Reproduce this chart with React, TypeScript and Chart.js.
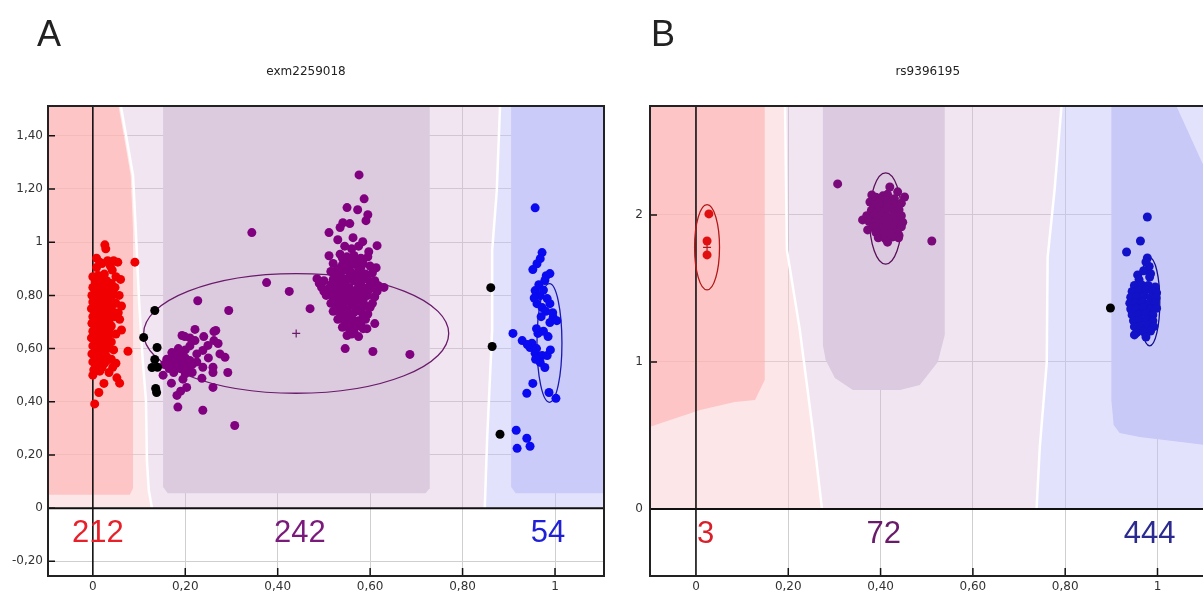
import React, { useEffect, useRef } from 'react';
import { Chart, registerables } from 'chart.js';

Chart.register(...registerables);

type Pt = [number, number];

// ---------- tick values ----------
const X_TICKS = [0, 0.2, 0.4, 0.6, 0.8, 1];
const A_Y_TICKS = [-0.2, 0, 0.2, 0.4, 0.6, 0.8, 1, 1.2, 1.4];
const B_Y_TICKS = [0, 1, 2];

// ---------- panel A data (exm2259018) ----------
const A_RED: Pt[] = [
  [0.026, 0.99], [0.028, 0.975], [0.015, 0.925], [0.032, 0.93], [0.045, 0.93], [0.054, 0.925], [0.091, 0.925],
  [0.02, 0.92], [0.038, 0.91], [0.008, 0.905], [0.042, 0.895], [0.008, 0.94], [0.02, 0.865],
  [0.0, 0.87], [0.012, 0.875], [0.025, 0.88], [0.05, 0.87], [0.06, 0.86], [0.005, 0.85], [0.018, 0.85],
  [0.03, 0.855], [0.04, 0.845], [0.0, 0.83], [0.01, 0.825], [0.022, 0.83], [0.035, 0.82], [0.048, 0.83],
  [0.057, 0.8], [-0.002, 0.8], [0.008, 0.8], [0.018, 0.805], [0.028, 0.795], [0.04, 0.79], [0.0, 0.775],
  [0.012, 0.77], [0.024, 0.775], [0.036, 0.765], [0.05, 0.77], [0.062, 0.76], [-0.003, 0.75], [0.006, 0.745],
  [0.016, 0.75], [0.03, 0.745], [0.042, 0.74], [0.055, 0.735], [0.0, 0.72], [0.01, 0.72], [0.022, 0.725],
  [0.034, 0.715], [0.047, 0.72], [0.058, 0.71], [-0.002, 0.695], [0.008, 0.69], [0.018, 0.695], [0.028, 0.69],
  [0.04, 0.685], [0.036, 0.68], [0.0, 0.665], [0.012, 0.665], [0.024, 0.66], [0.036, 0.66], [0.05, 0.655],
  [0.062, 0.67], [-0.003, 0.64], [0.006, 0.635], [0.016, 0.64], [0.028, 0.635], [0.04, 0.625], [0.0, 0.61],
  [0.01, 0.605], [0.02, 0.61], [0.032, 0.6], [0.076, 0.59], [0.045, 0.595], [-0.002, 0.58], [0.008, 0.575],
  [0.018, 0.58], [0.03, 0.57], [0.04, 0.56], [0.03, 0.555], [0.0, 0.55], [0.012, 0.545], [0.025, 0.545],
  [0.05, 0.545], [0.043, 0.53], [0.002, 0.52], [0.015, 0.515], [0.035, 0.51], [0.052, 0.49], [0.0, 0.5],
  [0.024, 0.469], [0.013, 0.435], [0.004, 0.392], [0.058, 0.47],
  [0.005, 0.86], [0.015, 0.84], [0.028, 0.84], [0.005, 0.81], [0.015, 0.815], [0.03, 0.81], [0.045, 0.805],
  [0.005, 0.785], [0.02, 0.785], [0.032, 0.78], [0.005, 0.76], [0.022, 0.76], [0.04, 0.755], [0.005, 0.73],
  [0.016, 0.735], [0.028, 0.73], [0.005, 0.705], [0.024, 0.705], [0.035, 0.7], [0.005, 0.68], [0.016, 0.678],
  [0.03, 0.675], [0.005, 0.65], [0.02, 0.65], [0.034, 0.645], [0.005, 0.62], [0.015, 0.622], [0.026, 0.62],
  [0.005, 0.59], [0.024, 0.59], [0.012, 0.56], [0.022, 0.56], [0.007, 0.535], [0.02, 0.53],
];

const A_PURPLE: Pt[] = [
  // left cluster
  [0.227, 0.78], [0.294, 0.743], [0.221, 0.672], [0.262, 0.664], [0.193, 0.649], [0.221, 0.63], [0.271, 0.619],
  [0.249, 0.612], [0.238, 0.593], [0.171, 0.585], [0.188, 0.581], [0.286, 0.567], [0.292, 0.51], [0.26, 0.51],
  [0.238, 0.53], [0.236, 0.488], [0.26, 0.454], [0.203, 0.454], [0.182, 0.424], [0.184, 0.38], [0.238, 0.368],
  [0.307, 0.311], [0.152, 0.5], [0.16, 0.56], [0.17, 0.545], [0.18, 0.56], [0.19, 0.55], [0.2, 0.565],
  [0.21, 0.555], [0.165, 0.525], [0.178, 0.53], [0.19, 0.525], [0.205, 0.53], [0.215, 0.54], [0.2, 0.595],
  [0.21, 0.61], [0.225, 0.58], [0.185, 0.6], [0.2, 0.505], [0.215, 0.51], [0.175, 0.51], [0.155, 0.54],
  [0.225, 0.55], [0.195, 0.485], [0.25, 0.565], [0.21, 0.64], [0.24, 0.645], [0.262, 0.63], [0.275, 0.58],
  [0.17, 0.47], [0.19, 0.44], [0.26, 0.53], [0.199, 0.645], [0.266, 0.668],
  [0.17, 0.56], [0.185, 0.545], [0.2, 0.545], [0.185, 0.57], [0.175, 0.575], [0.195, 0.57], [0.165, 0.545],
  // scattered middle
  [0.344, 1.036], [0.376, 0.848], [0.425, 0.815], [0.47, 0.75], [0.546, 0.6], [0.606, 0.589], [0.686, 0.578],
  [0.55, 0.649], [0.593, 0.675], [0.61, 0.694],
  // main cluster
  [0.576, 1.253], [0.587, 1.163], [0.55, 1.13], [0.573, 1.122], [0.595, 1.103], [0.591, 1.081], [0.541, 1.073],
  [0.556, 1.07], [0.535, 1.055], [0.511, 1.036], [0.53, 1.009], [0.563, 1.017], [0.584, 1.002], [0.615, 0.987],
  [0.511, 0.949], [0.597, 0.964], [0.613, 0.904], [0.617, 0.837], [0.485, 0.863], [0.49, 0.845], [0.5, 0.815],
  [0.545, 0.985], [0.56, 0.975], [0.575, 0.985],
  [0.535, 0.955], [0.55, 0.945], [0.565, 0.95], [0.58, 0.94], [0.595, 0.945],
  [0.52, 0.92], [0.54, 0.915], [0.555, 0.925], [0.57, 0.915], [0.585, 0.92], [0.6, 0.91],
  [0.515, 0.89], [0.53, 0.885], [0.545, 0.895], [0.56, 0.885], [0.575, 0.89], [0.59, 0.88], [0.605, 0.885],
  [0.5, 0.855], [0.52, 0.86], [0.535, 0.85], [0.55, 0.86], [0.565, 0.855], [0.58, 0.85], [0.595, 0.86], [0.61, 0.855],
  [0.495, 0.83], [0.51, 0.825], [0.525, 0.835], [0.54, 0.825], [0.555, 0.83], [0.57, 0.82], [0.585, 0.83],
  [0.6, 0.825], [0.615, 0.815], [0.63, 0.83],
  [0.505, 0.8], [0.52, 0.795], [0.535, 0.805], [0.55, 0.795], [0.565, 0.8], [0.58, 0.79], [0.595, 0.8], [0.61, 0.795],
  [0.515, 0.77], [0.53, 0.765], [0.545, 0.775], [0.56, 0.765], [0.575, 0.77], [0.59, 0.76], [0.605, 0.77],
  [0.52, 0.74], [0.535, 0.735], [0.55, 0.745], [0.565, 0.735], [0.58, 0.74], [0.595, 0.73],
  [0.53, 0.71], [0.545, 0.705], [0.56, 0.715], [0.575, 0.705], [0.59, 0.71],
  [0.54, 0.68], [0.555, 0.675], [0.57, 0.685], [0.585, 0.675], [0.56, 0.655], [0.575, 0.645],
  [0.54, 0.94], [0.57, 0.93], [0.555, 0.905], [0.53, 0.9], [0.58, 0.905], [0.525, 0.87], [0.555, 0.87],
  [0.585, 0.865], [0.54, 0.865], [0.57, 0.87], [0.515, 0.84], [0.545, 0.84], [0.575, 0.84], [0.6, 0.84],
  [0.53, 0.815], [0.56, 0.815], [0.59, 0.815], [0.545, 0.81], [0.515, 0.81], [0.575, 0.81], [0.525, 0.785],
  [0.555, 0.785], [0.585, 0.78], [0.54, 0.79], [0.57, 0.785], [0.54, 0.755], [0.57, 0.755], [0.555, 0.725],
  [0.585, 0.725], [0.54, 0.72], [0.565, 0.695], [0.55, 0.69], [0.58, 0.69], [0.53, 0.755], [0.6, 0.755],
  [0.565, 0.665],
];

const A_BLUE: Pt[] = [
  [0.957, 1.129], [0.972, 0.961], [0.968, 0.938], [0.961, 0.919], [0.952, 0.897], [0.981, 0.874], [0.989, 0.882],
  [0.978, 0.856], [0.957, 0.818], [0.968, 0.799], [0.983, 0.788], [0.961, 0.769], [0.972, 0.754], [0.989, 0.769],
  [0.996, 0.717], [0.989, 0.698], [1.004, 0.705], [0.909, 0.657], [0.929, 0.63], [0.963, 0.657], [0.985, 0.645],
  [0.946, 0.604], [0.957, 0.582], [0.972, 0.574], [0.983, 0.574], [0.968, 0.548], [0.978, 0.529], [0.952, 0.469],
  [0.939, 0.432], [0.987, 0.435], [1.002, 0.413], [0.916, 0.293], [0.939, 0.263], [0.946, 0.233], [0.918, 0.225],
  [0.965, 0.84], [0.975, 0.82], [0.955, 0.79], [0.98, 0.74], [0.97, 0.72], [0.995, 0.735], [0.96, 0.675],
  [0.975, 0.665], [0.95, 0.62], [0.96, 0.6], [0.94, 0.615], [0.99, 0.595], [0.958, 0.56],
];

const A_BLACK: Pt[] = [
  [0.861, 0.829], [0.864, 0.608], [0.881, 0.278], [0.134, 0.743], [0.11, 0.642], [0.139, 0.604],
  [0.134, 0.559], [0.128, 0.529], [0.14, 0.53], [0.136, 0.45], [0.138, 0.435],
];

const A_COUNTS = [212, 242, 54];
const A_COUNT_X = [0.011, 0.448, 0.985];

// ---------- panel B data (rs9396195) ----------
const B_RED: Pt[] = [[0.028, 2.007], [0.024, 1.823], [0.024, 1.728]];

const B_PURPLE: Pt[] = [
  [0.307, 2.211], [0.511, 1.823], [0.439, 1.844], [0.42, 2.19], [0.437, 2.157], [0.452, 2.122], [0.381, 2.136],
  [0.377, 2.088], [0.361, 1.966], [0.372, 1.898],
  [0.39, 2.12], [0.405, 2.13], [0.415, 2.14], [0.4, 2.1], [0.415, 2.1], [0.43, 2.11], [0.385, 2.07], [0.4, 2.065],
  [0.415, 2.07], [0.43, 2.075], [0.445, 2.08], [0.38, 2.03], [0.395, 2.035], [0.41, 2.03], [0.425, 2.04],
  [0.44, 2.035], [0.37, 1.995], [0.385, 1.995], [0.4, 2.0], [0.415, 1.99], [0.43, 2.0], [0.445, 1.995],
  [0.375, 1.955], [0.39, 1.96], [0.405, 1.955], [0.42, 1.96], [0.435, 1.955], [0.448, 1.95], [0.385, 1.92],
  [0.4, 1.915], [0.415, 1.92], [0.43, 1.915], [0.445, 1.92], [0.39, 1.88], [0.405, 1.875], [0.42, 1.88],
  [0.435, 1.885], [0.395, 1.845], [0.41, 1.84], [0.425, 1.85], [0.44, 1.86], [0.415, 1.815],
];

const B_BLUE: Pt[] = [
  [0.978, 1.986], [0.963, 1.823], [0.933, 1.748], [0.978, 1.707], [0.957, 1.592], [0.983, 1.578],
  [0.975, 1.68], [0.982, 1.65], [0.97, 1.62], [0.985, 1.6], [0.96, 1.56],
  [0.95, 1.52], [0.965, 1.525], [0.98, 1.52], [0.995, 1.51],
  [0.945, 1.48], [0.96, 1.485], [0.975, 1.49], [0.99, 1.48], [0.998, 1.47],
  [0.942, 1.44], [0.955, 1.445], [0.97, 1.45], [0.985, 1.44], [0.997, 1.435],
  [0.94, 1.4], [0.953, 1.405], [0.968, 1.41], [0.982, 1.4], [0.995, 1.405],
  [0.942, 1.36], [0.955, 1.365], [0.97, 1.37], [0.985, 1.36], [0.998, 1.365],
  [0.945, 1.32], [0.96, 1.325], [0.975, 1.33], [0.99, 1.32],
  [0.948, 1.28], [0.962, 1.285], [0.977, 1.29], [0.99, 1.28],
  [0.95, 1.24], [0.965, 1.245], [0.98, 1.25], [0.992, 1.24],
  [0.955, 1.2], [0.97, 1.205], [0.985, 1.21], [0.95, 1.184], [0.975, 1.17],
];

const B_BLACK: Pt[] = [[0.898, 1.367]];

const B_COUNTS = [3, 72, 444];
const B_COUNT_X = [0.021, 0.407, 0.983];

// ---------- cluster boundaries (data units) ----------
const A_WHITE_L: Pt[] = [[0.061, 1.7], [0.061, 1.508], [0.074, 1.381], [0.087, 1.25], [0.093, 1.043], [0.1, 0.78], [0.108, 0.555], [0.115, 0.405], [0.117, 0.18], [0.121, 0.068], [0.128, 0]];
const A_WHITE_R: Pt[] = [[0.881, 1.7], [0.881, 1.508], [0.874, 1.193], [0.864, 0.968], [0.864, 0.668], [0.853, 0.255], [0.848, 0]];
const A_RED_ZONE: Pt[] = [[-0.2, 0.05], [-0.2, 1.7], [0.056, 1.7], [0.056, 1.508], [0.069, 1.381], [0.082, 1.25], [0.087, 1.043], [0.087, 0.075], [0.08, 0.05]];
const A_PURPLE_ZONE: Pt[] = [[0.152, 0.08], [0.152, 1.7], [0.729, 1.7], [0.729, 0.075], [0.72, 0.056], [0.162, 0.056]];
const A_BLUE_ZONE: Pt[] = [[0.905, 0.08], [0.905, 1.7], [1.3, 1.7], [1.3, 0.056], [0.915, 0.056]];

const B_WHITE_L: Pt[] = [[0.193, 3], [0.193, 2.741], [0.197, 1.762], [0.225, 1.218], [0.253, 0.537], [0.273, 0]];
const B_WHITE_R: Pt[] = [[0.792, 3], [0.792, 2.741], [0.777, 2.17], [0.762, 1.714], [0.76, 0.993], [0.745, 0.422], [0.738, 0]];
const B_RED_ZONE: Pt[] = [[-0.2, 3], [0.149, 3], [0.149, 0.878], [0.128, 0.741], [0.084, 0.728], [0.009, 0.673], [-0.1, 0.558], [-0.2, 0.5]];
const B_PURPLE_ZONE: Pt[] = [[0.275, 3], [0.539, 3], [0.539, 1.184], [0.524, 1.0], [0.485, 0.844], [0.442, 0.81], [0.34, 0.81], [0.301, 0.891], [0.281, 1.014], [0.275, 1.116]];
const B_BLUE_ZONE: Pt[] = [[0.9, 3], [1.041, 3], [1.041, 2.741], [1.104, 2.306], [1.3, 2.0], [1.3, 0.42], [1.104, 0.435], [0.961, 0.49], [0.918, 0.517], [0.905, 0.571], [0.9, 0.741]];

const rev = (a: Pt[]): Pt[] => [...a].reverse();

const PINK = 'rgba(250,200,205,0.45)';
const LAVENDER = 'rgba(215,180,215,0.35)';
const LIGHTBLUE = 'rgba(190,190,250,0.45)';
const REDZ = 'rgba(255,175,175,0.6)';

const fmt = (v: number) => (Number.isInteger(v) ? String(v) : v.toFixed(2).replace('.', ','));

const PANELS = [
  {
    key: 'A',
    title: 'exm2259018',
    titleFull: true,
    left: 0, width: 610, leftPad: 8, yAxisWidth: 40, rightPad: 6, yLabelPad: 5,
    xMin: -0.097, xMax: 1.106, yMin: -0.255, yMax: 1.512, yTicks: A_Y_TICKS,
    groups: [
      { label: 'unclassified', pts: A_BLACK, color: '#000000' },
      { label: 'AA', pts: A_RED, color: '#f00000' },
      { label: 'AB', pts: A_PURPLE, color: '#800080' },
      { label: 'BB', pts: A_BLUE, color: '#0a0af0' },
    ],
    regions: [
      { pts: [[-0.2, 0], [-0.2, 1.7], ...A_WHITE_L] as Pt[], fill: PINK },
      { pts: [...A_WHITE_L, ...rev(A_WHITE_R)], fill: LAVENDER },
      { pts: [...A_WHITE_R, [1.3, 0], [1.3, 1.7]] as Pt[], fill: LIGHTBLUE },
      { pts: A_RED_ZONE, fill: REDZ },
      { pts: A_PURPLE_ZONE, fill: '#dccbdf' },
      { pts: A_BLUE_ZONE, fill: '#cbcbf9' },
    ],
    whiteLines: [A_WHITE_L, A_WHITE_R],
    ellipses: [
      { cx: 0.44, cy: 0.657, rx: 0.33, ry: 0.225, color: '#6a1a6a', plus: true },
      { cx: 0.988, cy: 0.621, rx: 0.027, ry: 0.223, color: '#1a1ab0', plus: false },
    ],
    counts: A_COUNTS, countX: A_COUNT_X, countColors: ['#e8202a', '#7a1a7a', '#2020d8'],
  },
  {
    key: 'B',
    title: 'rs9396195',
    titleFull: false,
    left: 600, width: 610, leftPad: 0, yAxisWidth: 50, rightPad: 4, yLabelPad: 7,
    xMin: -0.0996, xMax: 1.104, yMin: -0.456, yMax: 2.741, yTicks: B_Y_TICKS,
    groups: [
      { label: 'unclassified', pts: B_BLACK, color: '#000000' },
      { label: 'AA', pts: B_RED, color: '#e01010' },
      { label: 'AB', pts: B_PURPLE, color: '#7a0a7a' },
      { label: 'BB', pts: B_BLUE, color: '#1212c8' },
    ],
    regions: [
      { pts: [[-0.2, 0], [-0.2, 3], ...B_WHITE_L] as Pt[], fill: PINK },
      { pts: [...B_WHITE_L, ...rev(B_WHITE_R)], fill: LAVENDER },
      { pts: [...B_WHITE_R, [1.3, 0], [1.3, 3]] as Pt[], fill: LIGHTBLUE },
      { pts: B_RED_ZONE, fill: REDZ },
      { pts: B_PURPLE_ZONE, fill: '#dccae0' },
      { pts: B_BLUE_ZONE, fill: '#c9c9f7' },
    ],
    whiteLines: [B_WHITE_L, B_WHITE_R],
    ellipses: [
      { cx: 0.024, cy: 1.78, rx: 0.027, ry: 0.29, color: '#b01818', plus: true },
      { cx: 0.411, cy: 1.976, rx: 0.035, ry: 0.31, color: '#5a105a', plus: false },
      { cx: 0.983, cy: 1.41, rx: 0.022, ry: 0.3, color: '#101090', plus: false },
    ],
    counts: B_COUNTS, countX: B_COUNT_X, countColors: ['#d8202a', '#6a1a6a', '#2a2a90'],
  },
];

function makeDecor(spec: any) {
  return {
    id: 'decor' + spec.key,
    beforeDatasetsDraw(chart: any) {
      const { ctx, chartArea: ca, scales } = chart;
      const px = (v: number) => scales.x.getPixelForValue(v);
      const py = (v: number) => scales.y.getPixelForValue(v);
      ctx.save();
      ctx.beginPath();
      ctx.rect(ca.left, ca.top, ca.right - ca.left, ca.bottom - ca.top);
      ctx.clip();
      for (const r of spec.regions) {
        ctx.beginPath();
        r.pts.forEach(([a, b]: Pt, i: number) => (i ? ctx.lineTo(px(a), py(b)) : ctx.moveTo(px(a), py(b))));
        ctx.closePath();
        ctx.fillStyle = r.fill;
        ctx.fill();
      }
      ctx.strokeStyle = '#ffffff';
      ctx.lineWidth = 2.5;
      for (const wl of spec.whiteLines) {
        ctx.beginPath();
        wl.forEach(([a, b]: Pt, i: number) => (i ? ctx.lineTo(px(a), py(b)) : ctx.moveTo(px(a), py(b))));
        ctx.stroke();
      }
      // zero axes
      ctx.strokeStyle = '#111111';
      ctx.lineWidth = 1.6;
      ctx.beginPath();
      ctx.moveTo(px(0), ca.top);
      ctx.lineTo(px(0), ca.bottom);
      ctx.stroke();
      ctx.lineWidth = 2;
      ctx.beginPath();
      ctx.moveTo(ca.left, py(0));
      ctx.lineTo(ca.right, py(0));
      ctx.stroke();
      // ellipses
      for (const e of spec.ellipses) {
        const cx = px(e.cx), cy = py(e.cy);
        const rx = Math.abs(px(e.cx + e.rx) - cx), ry = Math.abs(py(e.cy + e.ry) - cy);
        ctx.strokeStyle = e.color;
        ctx.lineWidth = 1.3;
        ctx.beginPath();
        ctx.ellipse(cx, cy, rx, ry, 0, 0, Math.PI * 2);
        ctx.stroke();
        if (e.plus) {
          ctx.lineWidth = 1.2;
          ctx.beginPath();
          ctx.moveTo(cx - 4, cy);
          ctx.lineTo(cx + 4, cy);
          ctx.moveTo(cx, cy - 4);
          ctx.lineTo(cx, cy + 4);
          ctx.stroke();
        }
      }
      ctx.restore();
    },
    afterDraw(chart: any) {
      const { ctx, chartArea: ca, scales } = chart;
      const px = (v: number) => scales.x.getPixelForValue(v);
      const py = (v: number) => scales.y.getPixelForValue(v);
      ctx.save();
      ctx.strokeStyle = '#111111';
      ctx.lineWidth = 1.5;
      ctx.beginPath();
      for (const v of X_TICKS) {
        if (v === 0) continue;
        ctx.moveTo(px(v), ca.bottom);
        ctx.lineTo(px(v), ca.bottom - 8);
      }
      for (const v of spec.yTicks) {
        ctx.moveTo(ca.left, py(v));
        ctx.lineTo(ca.left + 7, py(v));
      }
      ctx.stroke();
      ctx.lineWidth = 2;
      ctx.strokeStyle = '#222222';
      ctx.strokeRect(ca.left, ca.top, ca.right - ca.left, ca.bottom - ca.top);
      ctx.font = '31px "Liberation Sans", Arial, sans-serif';
      ctx.textAlign = 'center';
      ctx.textBaseline = 'alphabetic';
      spec.counts.forEach((n: number, i: number) => {
        ctx.fillStyle = spec.countColors[i];
        ctx.fillText(String(n), px(spec.countX[i]), py(0) + 34);
      });
      ctx.restore();
    },
  };
}

function Panel({ spec }: { spec: any }) {
  const ref = useRef<HTMLCanvasElement | null>(null);
  useEffect(() => {
    if (!ref.current) return;
    const tickFont = { family: '"DejaVu Sans", sans-serif', size: 12 };
    const chart = new Chart(ref.current, {
      type: 'scatter',
      data: {
        datasets: spec.groups.map((g: any) => ({
          label: g.label,
          data: g.pts.map(([x, y]: Pt) => ({ x, y })),
          pointRadius: 4.5,
          pointHoverRadius: 4.5,
          pointBackgroundColor: g.color,
          pointBorderWidth: 0,
          borderColor: g.color,
          backgroundColor: g.color,
          showLine: false,
        })),
      },
      options: {
        animation: false,
        responsive: false,
        events: [],
        layout: { padding: { left: spec.leftPad, right: spec.rightPad, top: 0, bottom: 0 } },
        plugins: {
          legend: { display: false },
          tooltip: { enabled: false },
          title: {
            display: true,
            fullSize: spec.titleFull,
            text: spec.title,
            color: '#222222',
            font: { family: '"DejaVu Sans", sans-serif', size: 12, weight: 'normal' },
            padding: { top: 15, bottom: 26.6 },
          },
        },
        scales: {
          x: {
            type: 'linear',
            min: spec.xMin,
            max: spec.xMax,
            afterBuildTicks: (s: any) => { s.ticks = X_TICKS.map((v) => ({ value: v })); },
            afterFit: (s: any) => { s.height = 18; },
            grid: { color: '#cfcfcf', lineWidth: 1, drawTicks: false },
            border: { display: false },
            ticks: { padding: 4, font: tickFont, color: '#333333', maxRotation: 0, autoSkip: false, callback: (v: any) => fmt(Number(v)) },
          },
          y: {
            type: 'linear',
            min: spec.yMin,
            max: spec.yMax,
            afterBuildTicks: (s: any) => { s.ticks = spec.yTicks.map((v: number) => ({ value: v })); },
            afterFit: (s: any) => { s.width = spec.yAxisWidth; },
            grid: { color: '#cfcfcf', lineWidth: 1, drawTicks: false },
            border: { display: false },
            ticks: { padding: spec.yLabelPad, font: tickFont, color: '#333333', autoSkip: false, callback: (v: any) => fmt(Number(v)) },
          },
        },
      },
      plugins: [makeDecor(spec)],
    } as any);
    return () => chart.destroy();
  }, [spec]);
  return (
    <div style={{ position: 'absolute', left: spec.left, top: 50, width: spec.width, height: 544 }}>
      <canvas ref={ref} width={spec.width} height={544} style={{ width: spec.width, height: 544, display: 'block' }} />
    </div>
  );
}

export default function App() {
  const letter: React.CSSProperties = {
    position: 'absolute',
    top: 16,
    fontFamily: '"Liberation Sans", Arial, sans-serif',
    fontSize: 36,
    lineHeight: '36px',
    color: '#222222',
  };
  return (
    <div style={{ position: 'fixed', left: 0, top: 0, width: 1203, height: 594, overflow: 'hidden', background: '#ffffff' }}>
      {PANELS.map((p) => (
        <Panel key={p.key} spec={p} />
      ))}
      <div style={{ ...letter, left: 37 }}>A</div>
      <div style={{ ...letter, left: 651 }}>B</div>
    </div>
  );
}
